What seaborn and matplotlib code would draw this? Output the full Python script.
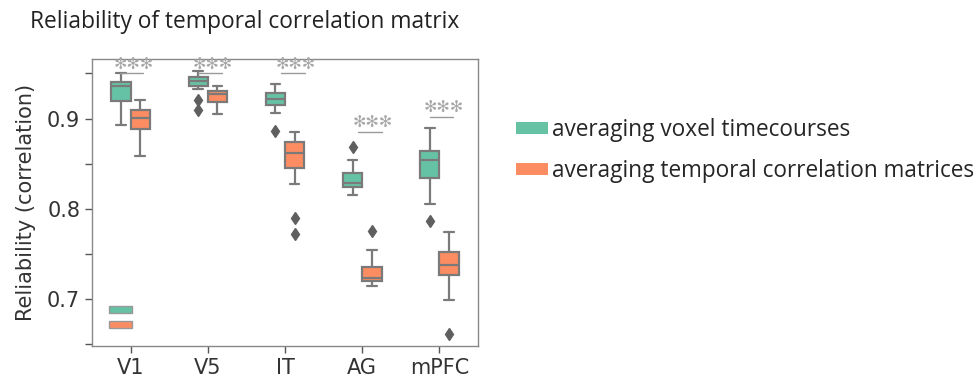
import numpy as np
import pandas as pd
import matplotlib
matplotlib.use("Agg")
import matplotlib.pyplot as plt
from matplotlib.patches import Patch
import seaborn as sns

# ---- data (box summaries per ROI) ----
rois = ["V1", "V5", "IT", "AG", "mPFC"]
methods = ["averaging voxel timecourses", "averaging temporal correlation matrices"]

vox_lo = [0.893, 0.933, 0.906, 0.815, 0.805]
vox_q1 = [0.920, 0.9363, 0.915, 0.824, 0.834]
vox_med = [0.936, 0.942, 0.9215, 0.829, 0.854]
vox_q3 = [0.940, 0.9456, 0.928, 0.840, 0.864]
vox_hi = [0.950, 0.9526, 0.938, 0.854, 0.889]
vox_out = [[], [0.921, 0.910], [0.886], [0.868], [0.787]]

cor_lo = [0.859, 0.905, 0.828, 0.715, 0.699]
cor_q1 = [0.888, 0.9185, 0.8456, 0.7204, 0.7267]
cor_med = [0.901, 0.9267, 0.862, 0.7233, 0.7378]
cor_q3 = [0.9093, 0.9304, 0.874, 0.7352, 0.7526]
cor_hi = [0.921, 0.9363, 0.8856, 0.7544, 0.7741]
cor_out = [[], [], [0.7897, 0.7722], [0.7752], [0.6611]]

# height of the significance bar above each ROI
sig_y = [0.950, 0.950, 0.950, 0.8856, 0.9022]
sig_label = "\u273b\u273b\u273b"

GREEN = "#66c2a5"
ORANGE = "#fc8d62"
LINE = "#7a7a7a"


def build_sample(lo, q1, med, q3, hi, outliers):
    # repeated quartile values so the box stats land exactly on the read values
    return list(outliers) + [lo] + [q1] * 4 + [med] * 4 + [q3] * 4 + [hi]


rows = []
for i, roi in enumerate(rois):
    for v in build_sample(vox_lo[i], vox_q1[i], vox_med[i], vox_q3[i], vox_hi[i], vox_out[i]):
        rows.append((roi, methods[0], v))
    for v in build_sample(cor_lo[i], cor_q1[i], cor_med[i], cor_q3[i], cor_hi[i], cor_out[i]):
        rows.append((roi, methods[1], v))
df = pd.DataFrame(rows, columns=["roi", "method", "value"])

sns.set_style("ticks")
plt.rcParams["font.family"] = ["DejaVu Sans"]

fig = plt.figure(figsize=(9.8, 3.81), dpi=100)
ax = fig.add_axes([92 / 980, 35 / 381, 386 / 980, 287 / 381])

sns.boxplot(
    data=df, x="roi", y="value", hue="method", order=rois, hue_order=methods,
    palette=[GREEN, ORANGE], width=0.5, linecolor=LINE, linewidth=1.6,
    saturation=1, legend=False, ax=ax,
    flierprops=dict(marker="d", markerfacecolor="#5f5f5f",
                    markeredgecolor="#5f5f5f", markersize=6),
)

ax.set_xlim(-0.5, 4.5)
ax.set_ylim(0.648, 0.966)
ax.set_yticks([0.7, 0.8, 0.9])
ax.set_yticks([0.65, 0.75, 0.85, 0.95], minor=True)
ax.tick_params(axis="both", which="both", length=5, width=1, color="#555555",
               labelsize=15, labelcolor="#333333")
ax.set_xlabel("")
ax.set_ylabel("Reliability (correlation)", fontsize=15, color="#333333", labelpad=8)
for s in ax.spines.values():
    s.set_visible(True)
    s.set_color("#888888")
    s.set_linewidth(1)

# significance bars
sig_span = [(-0.14, 0.155), (-0.13, 0.19), (-0.05, 0.26), (-0.05, 0.26), (-0.12, 0.18)]
for i, y in enumerate(sig_y):
    a, b = sig_span[i]
    ax.plot([i + a, i + b], [y, y], color="#9a9a9a", lw=1)
    ax.annotate(sig_label, xy=(i + (a + b) / 2 + 0.03, y), xytext=(0, 6.5),
                textcoords="offset points", ha="center", va="center",
                fontsize=11.5, color="#a8a8a8", fontweight="bold")

# leftover empty legend inside the axes
inner = [Patch(facecolor=GREEN, edgecolor="#999999", lw=1),
         Patch(facecolor=ORANGE, edgecolor="#999999", lw=1)]
ax.legend(inner, ["", ""], loc="lower left", bbox_to_anchor=(0.03, 0.035),
          frameon=False, fontsize=8, handlelength=2.1, handleheight=0.7,
          labelspacing=0.45, handletextpad=0, borderpad=0)

# main legend to the right
outer = [Patch(facecolor=GREEN, edgecolor="none"), Patch(facecolor=ORANGE, edgecolor="none")]
fig.legend(outer, methods, loc="center left", bbox_to_anchor=(516 / 980, 1 - 150.5 / 381),
           frameon=False, prop={"family": "Open Sans", "size": 16.3}, handlelength=1.4,
           handleheight=0.45, labelspacing=0.75, handletextpad=0.2,
           borderpad=0, borderaxespad=0)

fig.text(30 / 980, 1 - 22 / 381, "Reliability of temporal correlation matrix",
         va="center", ha="left", fontsize=16.4, family="Open Sans", color="#222222")

fig.savefig("out.png", dpi=100)
